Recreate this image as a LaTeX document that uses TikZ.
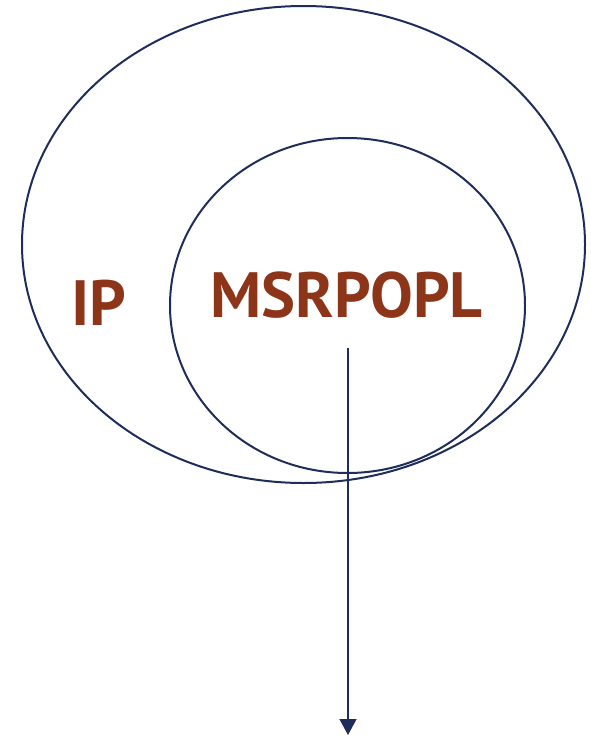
\documentclass[tikz,border=0pt]{standalone}
\usepackage{fontspec}
\setmainfont{PT Sans}
\usetikzlibrary{arrows.meta}
\definecolor{navy}{HTML}{1F2D5A}
\definecolor{rust}{HTML}{8C3519}
\tikzset{
  ring/.style={draw=navy, line width=2pt},
  lbl/.style={text=rust, font=\bfseries\fontsize{64}{64}\selectfont, inner sep=0pt, anchor=base},
  link/.style={draw=navy, line width=1.3pt, -{Triangle[width=17pt,length=16pt]}}
}
\begin{document}
\begin{tikzpicture}[x=1pt,y=-1pt]
\useasboundingbox (0,0) rectangle (590,736);
\draw[ring] (303.5,244.5) ellipse [x radius=281.5, y radius=238.5];
\draw[ring] (347.5,305.5) ellipse [x radius=177.5, y radius=167.5];
\node[lbl] (ip) at (98.5,325) {IP};
\node[lbl] (ms) at (346.5,317) {MSRPOPL};
\coordinate (start) at (348,348);
\coordinate (end) at (348,735);
\draw[link] (start) -- (end);
\end{tikzpicture}
\end{document}
